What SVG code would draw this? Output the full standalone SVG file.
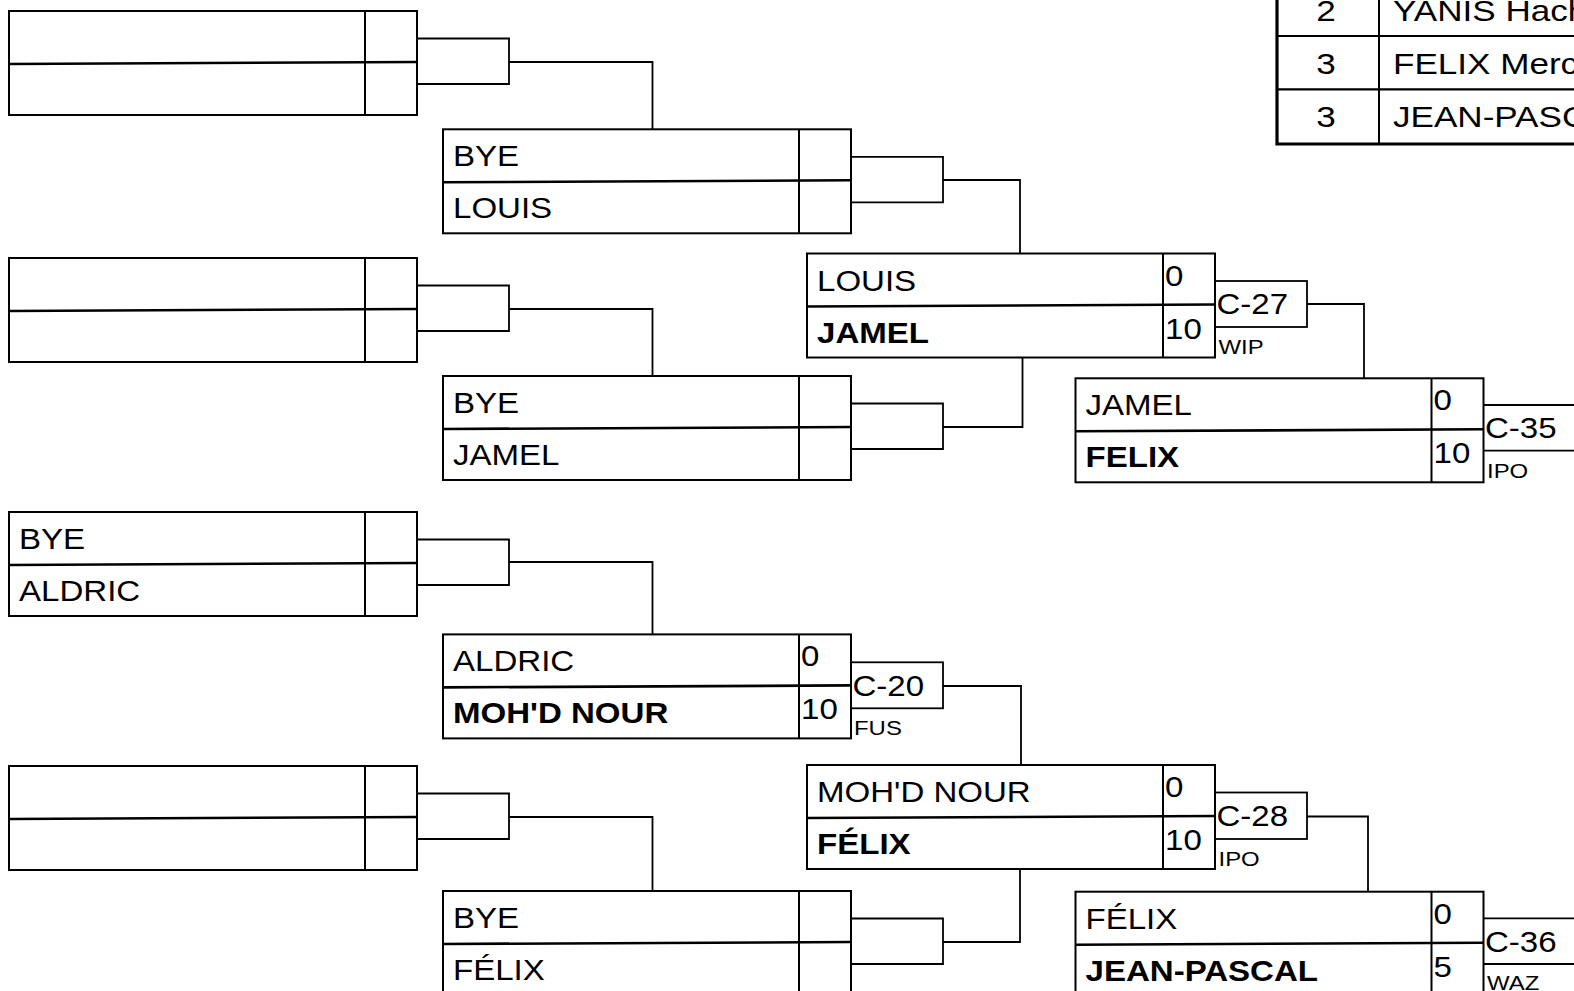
<svg xmlns="http://www.w3.org/2000/svg" xmlns:xlink="http://www.w3.org/1999/xlink" width="1574" height="991" viewBox="0 0 1574 991">
<style>
.bx{fill:none;stroke:#000;stroke-width:2}
.md{fill:none;stroke:#000;stroke-width:2.6}
.cn{fill:none;stroke:#000;stroke-width:1.8}
.t{font-family:"Liberation Sans",Arial,Helvetica,sans-serif;font-size:29px;fill:#000}
.b{font-weight:bold}
.s{font-size:21px}
.tb{font-size:30px}
.mid{text-anchor:middle}
</style>
<defs>
<g id="box">
<rect class="bx" x="0" y="0" width="408" height="104"/>
<line class="bx" x1="356" y1="0" x2="356" y2="104"/>
<line class="md" x1="0" y1="53" x2="408" y2="51"/>
</g>
</defs>
<rect x="0" y="0" width="1574" height="991" fill="#fff"/>

<g id="connectors">
<path class="cn" d="M417,38.5H509V84H417M509,62H652.5V129.3"/>
<path class="cn" d="M417,285.5H509V331H417M509,309H652.5V376"/>
<path class="cn" d="M417,539.5H509V585H417M509,562H652.5V634.4"/>
<path class="cn" d="M417,793.5H509V839H417M509,817H652.5V891"/>
<path class="cn" d="M851,156.8H943V202.3H851M943,180H1020V253.5"/>
<path class="cn" d="M851,403.5H943V449H851M943,427H1022.5V357.5"/>
<rect class="cn" x="851" y="662.3" width="92" height="46"/>
<path class="cn" d="M943,686H1021V765"/>
<path class="cn" d="M851,918.5H943V964H851M943,942H1020V869"/>
<rect class="cn" x="1215" y="281" width="92" height="46"/>
<path class="cn" d="M1307,304H1364V378.3"/>
<rect class="cn" x="1215" y="792.5" width="92" height="46.5"/>
<path class="cn" d="M1307,816.5H1368V891.7"/>
<path class="cn" d="M1483.5,405H1580M1483.5,450.7H1580"/>
<path class="cn" d="M1483.5,918.3H1580M1483.5,964H1580"/>
</g>

<g id="labels">
<text class="t" transform="matrix(1.14,0,0,1,852.5,695.6)">C-20</text>
<text class="t s" transform="matrix(1.14,0,0,1,854,735.3)">FUS</text>
<text class="t" transform="matrix(1.14,0,0,1,1216.5,314.3)">C-27</text>
<text class="t s" transform="matrix(1.14,0,0,1,1218.5,354)">WIP</text>
<text class="t" transform="matrix(1.14,0,0,1,1216.5,825.8)">C-28</text>
<text class="t s" transform="matrix(1.14,0,0,1,1218.5,865.5)">IPO</text>
<text class="t" transform="matrix(1.14,0,0,1,1485,438.3)">C-35</text>
<text class="t s" transform="matrix(1.14,0,0,1,1487,478.3)">IPO</text>
<text class="t" transform="matrix(1.14,0,0,1,1485,951.7)">C-36</text>
<text class="t s" transform="matrix(1.14,0,0,1,1487,990)">WAZ</text>
</g>

<g id="nodeA"><use xlink:href="#box" x="9" y="11"/></g>
<g id="nodeB"><use xlink:href="#box" x="9" y="258"/></g>
<g id="nodeC"><use xlink:href="#box" x="9" y="512"/>
<text class="t" transform="matrix(1.14,0,0,1,19,549)">BYE</text>
<text class="t" transform="matrix(1.14,0,0,1,19,601)">ALDRIC</text>
</g>
<g id="nodeD"><use xlink:href="#box" x="9" y="766"/></g>

<g id="nodeE"><use xlink:href="#box" x="443" y="129.3"/>
<text class="t" transform="matrix(1.14,0,0,1,453,166.3)">BYE</text>
<text class="t" transform="matrix(1.14,0,0,1,453,218.3)">LOUIS</text>
</g>
<g id="nodeF"><use xlink:href="#box" x="443" y="376"/>
<text class="t" transform="matrix(1.14,0,0,1,453,413)">BYE</text>
<text class="t" transform="matrix(1.14,0,0,1,453,465)">JAMEL</text>
</g>
<g id="nodeG"><use xlink:href="#box" x="443" y="634.4"/>
<text class="t" transform="matrix(1.14,0,0,1,453,671.4)">ALDRIC</text>
<text class="t b" transform="matrix(1.14,0,0,1,453,723.4)">MOH'D NOUR</text>
<text class="t" transform="matrix(1.14,0,0,1,801,666.4)">0</text>
<text class="t" transform="matrix(1.14,0,0,1,801,719.4)">10</text>
</g>
<g id="nodeH"><use xlink:href="#box" x="443" y="891"/>
<text class="t" transform="matrix(1.14,0,0,1,453,928)">BYE</text>
<text class="t" transform="matrix(1.14,0,0,1,453,980)">FÉLIX</text>
</g>

<g id="nodeI"><use xlink:href="#box" x="807" y="253.5"/>
<text class="t" transform="matrix(1.14,0,0,1,817,290.5)">LOUIS</text>
<text class="t b" transform="matrix(1.14,0,0,1,817,342.5)">JAMEL</text>
<text class="t" transform="matrix(1.14,0,0,1,1165,285.5)">0</text>
<text class="t" transform="matrix(1.14,0,0,1,1165,338.5)">10</text>
</g>
<g id="nodeJ"><use xlink:href="#box" x="807" y="765"/>
<text class="t" transform="matrix(1.14,0,0,1,817,802)">MOH'D NOUR</text>
<text class="t b" transform="matrix(1.14,0,0,1,817,854)">FÉLIX</text>
<text class="t" transform="matrix(1.14,0,0,1,1165,797)">0</text>
<text class="t" transform="matrix(1.14,0,0,1,1165,850)">10</text>
</g>

<g id="nodeK"><use xlink:href="#box" x="1075.5" y="378.3"/>
<text class="t" transform="matrix(1.14,0,0,1,1085.5,415.3)">JAMEL</text>
<text class="t b" transform="matrix(1.14,0,0,1,1085.5,467.3)">FELIX</text>
<text class="t" transform="matrix(1.14,0,0,1,1433.5,410.3)">0</text>
<text class="t" transform="matrix(1.14,0,0,1,1433.5,463.3)">10</text>
</g>
<g id="nodeL"><use xlink:href="#box" x="1075.5" y="891.7"/>
<text class="t" transform="matrix(1.14,0,0,1,1085.5,928.7)">FÉLIX</text>
<text class="t b" transform="matrix(1.14,0,0,1,1085.5,980.7)">JEAN-PASCAL</text>
<text class="t" transform="matrix(1.14,0,0,1,1433.5,923.7)">0</text>
<text class="t" transform="matrix(1.14,0,0,1,1433.5,976.7)">5</text>
</g>

<g id="table">
<path d="M1277,-5V144H1580" fill="none" stroke="#000" stroke-width="3.2"/>
<line x1="1379" y1="-5" x2="1379" y2="144" stroke="#000" stroke-width="2"/>
<line x1="1277" y1="36" x2="1580" y2="36" stroke="#000" stroke-width="2.2"/>
<line x1="1277" y1="89.3" x2="1580" y2="89.3" stroke="#000" stroke-width="2.2"/>
<text class="t tb mid" transform="matrix(1.17,0,0,1,1326,21)">2</text>
<text class="t tb mid" transform="matrix(1.17,0,0,1,1326,74)">3</text>
<text class="t tb mid" transform="matrix(1.17,0,0,1,1326,127)">3</text>
<text class="t tb" transform="matrix(1.17,0,0,1,1393,21)">YANIS Hach</text>
<text class="t tb" transform="matrix(1.17,0,0,1,1393,74)">FELIX Merc</text>
<text class="t tb" transform="matrix(1.17,0,0,1,1393,127)">JEAN-PASC</text>
</g>
</svg>
